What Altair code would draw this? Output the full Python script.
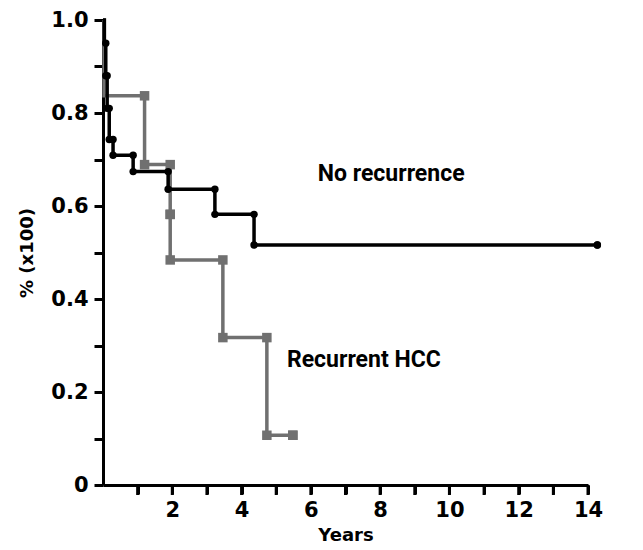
import altair as alt
import pandas as pd

# No recurrence (black) Kaplan-Meier steps
nr_time = [0, 0.04, 0.08, 0.12, 0.18, 0.29, 0.87, 1.88, 3.23, 4.36, 14.27]
nr_surv = [1.0, 0.95, 0.88, 0.81, 0.743, 0.709, 0.674, 0.636, 0.582, 0.516, 0.516]

# Recurrent HCC (gray) steps
rc_time = [0, 0.03, 1.2, 1.94, 1.94, 3.46, 4.73, 5.48]
rc_surv = [1.0, 0.837, 0.689, 0.582, 0.484, 0.317, 0.107, 0.107]

label_text = ["No recurrence", "Recurrent HCC"]
label_x = [6.2, 5.31]
label_y = [0.668, 0.268]

x_ticks = list(range(1, 15))
y_ticks = [round(i * 0.1, 1) for i in range(11)]

PLOT_H = 465


def step_df(times, surv, group):
    rows = []
    for i, (t, s) in enumerate(zip(times, surv)):
        rows.append({"t": t, "s": s, "o": i, "g": group})
    return pd.DataFrame(rows)


def marker_df(times, surv, start, group):
    rows = []
    for i in range(start, len(times)):
        rows.append({"t": times[i], "s": surv[i - 1], "g": group})
        rows.append({"t": times[i], "s": surv[i], "g": group})
    return pd.DataFrame(rows)


nr_df = step_df(nr_time, nr_surv, "nr")
rc_df = step_df(rc_time, rc_surv, "rc")
nr_mk = marker_df(nr_time, nr_surv, 2, "nr")
rc_mk = marker_df(rc_time, rc_surv, 2, "rc")
lab_df = pd.DataFrame({"t": label_x, "s": label_y, "text": label_text})
tick_df = pd.DataFrame({"t": x_ticks})

GRAY = "#707070"

xscale = alt.Scale(domain=[0, 14], nice=False, zero=True)
yscale = alt.Scale(domain=[0, 1], nice=False)

xax = alt.Axis(
    values=x_ticks,
    labelExpr="(datum.value == 2 || datum.value == 4 || datum.value == 6 || datum.value == 8 || datum.value == 10 || datum.value == 12 || datum.value == 14) ? datum.label : ''",
    labelOverlap=False,
    labelFlush=False,
    ticks=True,
    tickSize=9,
    tickWidth=3,
    tickColor="black",
    title="Years",
    grid=False,
)
yax = alt.Axis(
    values=y_ticks,
    labelExpr="datum.value == 0 ? '0' : (round(datum.value*10) % 2 == 0 ? format(datum.value, '.1f') : '')",
    labelOverlap=False,
    title="% (x100)",
    grid=False,
)

X = alt.X("t:Q", scale=xscale, axis=xax)
Y = alt.Y("s:Q", scale=yscale, axis=yax)

rc_line = alt.Chart(rc_df).mark_line(
    interpolate="step-after", color=GRAY, strokeWidth=3.5
).encode(x=X, y=Y, order="o:Q")
rc_pts = alt.Chart(rc_mk).mark_square(color=GRAY, size=90, opacity=1).encode(x=X, y=Y)
nr_line = alt.Chart(nr_df).mark_line(
    interpolate="step-after", color="black", strokeWidth=3.5
).encode(x=X, y=Y, order="o:Q")
nr_pts = alt.Chart(nr_mk).mark_circle(color="black", size=55, opacity=1).encode(x=X, y=Y)
labels = alt.Chart(lab_df).mark_text(
    align="left", baseline="middle", font="Roboto",
    fontWeight="bold", fontSize=23, color="black"
).encode(x=X, y=Y, text="text:N")
# x-axis tick marks drawn below the axis line, placed by the x scale
xticks = alt.Chart(tick_df).mark_rule(color="black", strokeWidth=3).encode(
    x=X, y=alt.value(PLOT_H), y2=alt.value(PLOT_H + 10)
)

chart = alt.layer(rc_line, rc_pts, nr_line, nr_pts, labels, xticks).properties(
    width=485,
    height=PLOT_H,
    autosize=alt.AutoSizeParams(type="none"),
    padding={"left": 103, "top": 20, "right": 55, "bottom": 65},
).configure_view(stroke=None).configure_axis(
    domainColor="black", domainWidth=3, tickColor="black", tickWidth=3,
    tickSize=9, labelColor="black", labelFont="DejaVu Sans",
    labelFontWeight="bold", labelFontSize=21, labelPadding=4,
    titleFont="DejaVu Sans", titleFontWeight="bold", titleFontSize=18,
    titleColor="black",
).configure_axisY(titlePadding=14, labelPadding=6).configure_axisX(
    titlePadding=6, labelPadding=5
)

chart.save("out.html", embed_options={"renderer": "svg", "actions": False})
